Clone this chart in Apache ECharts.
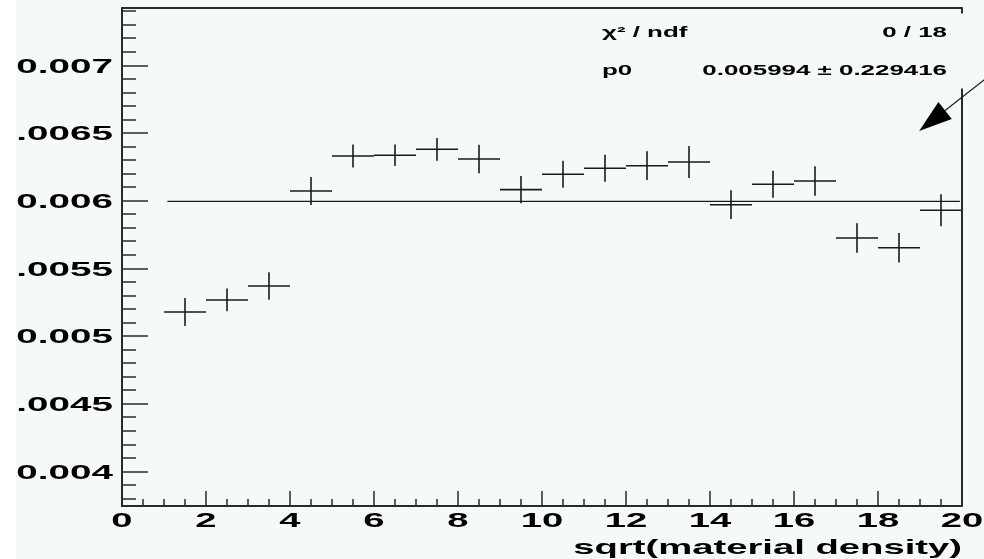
<!DOCTYPE html>
<html><head><meta charset="utf-8">
<script src="https://cdn.jsdelivr.net/npm/echarts@6/dist/echarts.min.js"></script>
<style>html,body{margin:0;padding:0;background:#F5FAF7;}#c{width:984px;height:559px;}</style>
</head><body><div id="c"></div>
<script>
// ---- data ----
var binCenters = [1.5, 2.5, 3.5, 4.5, 5.5, 6.5, 7.5, 8.5, 9.5, 10.5, 11.5, 12.5, 13.5, 14.5, 15.5, 16.5, 17.5, 18.5, 19.5];
var values = [0.005177, 0.005266, 0.005369, 0.006071, 0.006330, 0.006335, 0.006379, 0.006308, 0.006081, 0.006195, 0.006239, 0.006258, 0.006285, 0.005970, 0.006121, 0.006145, 0.005724, 0.005652, 0.005929];
var errors = [0.000103, 0.000084, 0.000101, 0.000103, 0.000085, 0.000080, 0.000084, 0.000105, 0.000100, 0.000100, 0.000100, 0.000106, 0.000118, 0.000106, 0.000100, 0.000109, 0.000109, 0.000109, 0.000118];
var binWidth = 1;
var fitP0 = 0.005994;
var fitRange = [1.08, 19.95];
var xMin = 0, xMax = 20;
var yMin = 0.003744, yMax = 0.007423;
var xTickValues = [0, 2, 4, 6, 8, 10, 12, 14, 16, 18, 20];
var xTickLabels = ['0', '2', '4', '6', '8', '10', '12', '14', '16', '18', '20'];
var yTickValues = [0.004, 0.0045, 0.005, 0.0055, 0.006, 0.0065, 0.007];
var yTickLabels = ['0.004', '0.0045', '0.005', '0.0055', '0.006', '0.0065', '0.007'];
var yMinorTickValues = [0.0038, 0.0039, 0.0041, 0.0042, 0.0043, 0.0044, 0.0046, 0.0047, 0.0048, 0.0049,
  0.0051, 0.0052, 0.0053, 0.0054, 0.0056, 0.0057, 0.0058, 0.0059, 0.0061, 0.0062, 0.0063, 0.0064,
  0.0066, 0.0067, 0.0068, 0.0069, 0.0071, 0.0072, 0.0073, 0.0074];
var xTitle = 'sqrt(material density)';
var statsLabels = ['\u03c7\u00b2 / ndf', 'p0'];
var statsValues = ['0 / 18', '0.005994 \u00b1 0.229416'];
var arrowTail = [20.905, 0.0069845];
var arrowTip = [18.98, 0.006515];

// ---- chart ----
var ink = '#1a1a1a';
var axisInk = '#2a2a2a';
var bg = '#F5FAF7';
var chart = echarts.init(document.getElementById('c'), null, {renderer: 'canvas'});
var points = binCenters.map(function (x, i) { return [x, values[i], errors[i]]; });
var fitData = [[fitRange[0], fitP0], [fitRange[1], fitP0]];

function renderCross(params, api) {
  var x = api.value(0), y = api.value(1), e = api.value(2);
  var l = api.coord([x - binWidth / 2, y]), r = api.coord([x + binWidth / 2, y]);
  var t = api.coord([x, y + e]), b = api.coord([x, y - e]);
  var st = {stroke: ink, lineWidth: 1.6};
  return {type: 'group', children: [
    {type: 'line', shape: {x1: l[0], y1: l[1], x2: r[0], y2: r[1]}, style: st},
    {type: 'line', shape: {x1: t[0], y1: t[1], x2: b[0], y2: b[1]}, style: st}
  ]};
}

var axLine = {show: true, onZero: false, lineStyle: {color: axisInk, width: 2}};
var option = {
  backgroundColor: bg,
  animation: false,
  grid: {left: 122, right: 22, top: 8, bottom: 53, show: false},
  xAxis: [
    {type: 'value', min: xMin, max: xMax, interval: 2, position: 'bottom',
      axisLine: axLine,
      axisTick: {show: true, inside: true, length: 15, lineStyle: {color: axisInk, width: 1.5}},
      minorTick: {show: true, splitNumber: 4, length: 7, lineStyle: {color: axisInk, width: 1.5}},
      axisLabel: {show: false}, splitLine: {show: false}, minorSplitLine: {show: false}},
    {type: 'value', min: xMin, max: xMax, position: 'top', axisLine: axLine,
      axisTick: {show: false}, axisLabel: {show: false}, splitLine: {show: false}}
  ],
  yAxis: [
    {type: 'value', min: yMin, max: yMax, position: 'left', axisLine: axLine,
      axisTick: {show: true, inside: true, length: 26, customValues: yTickValues, lineStyle: {color: axisInk, width: 1.5}},
      axisLabel: {show: false, customValues: yTickValues}, splitLine: {show: false}},
    {type: 'value', min: yMin, max: yMax, position: 'left', axisLine: {show: false},
      axisTick: {show: true, inside: true, length: 14, customValues: yMinorTickValues, lineStyle: {color: axisInk, width: 1.5}},
      axisLabel: {show: false, customValues: yMinorTickValues}, splitLine: {show: false}}
  ],
  series: [
    {type: 'line', data: fitData, symbol: 'none', xAxisIndex: 0, yAxisIndex: 0,
      lineStyle: {color: ink, width: 1.3}, silent: true},
    {type: 'custom', data: points, renderItem: renderCross, xAxisIndex: 0, yAxisIndex: 0, silent: true}
  ]
};
chart.setOption(option);

function px(p) { return chart.convertToPixel({xAxisIndex: 0, yAxisIndex: 0}, p); }
var FONT = '"Liberation Sans", Arial, Helvetica, sans-serif';
function txt(str, x, y, size, align, vAlign, sx, z) {
  return {type: 'text', x: x, y: y, scaleX: sx, z: z || 50,
    style: {text: str, x: 0, y: 0, fill: '#000', font: 'bold ' + size + 'px ' + FONT,
      textAlign: align, align: align, textVerticalAlign: vAlign, verticalAlign: vAlign}};
}
var g = [];
var origin = px([xMin, yMin]);
var topRight = px([xMax, yMax]);
yTickValues.forEach(function (v, i) {
  var p = px([xMin, v]);
  g.push(txt(yTickLabels[i], origin[0] - 9, p[1] + 1.5, 21, 'right', 'middle', 1.84));
});
xTickValues.forEach(function (v, i) {
  var p = px([v, yMin]);
  g.push(txt(xTickLabels[i], p[0], origin[1] + 15, 21, 'center', 'middle', 1.82));
});
g.push(txt(xTitle, topRight[0], origin[1] + 42, 21, 'right', 'middle', 1.82));
// right frame edge, interrupted by the stats box
var boxTop = 13.5, boxBottom = 88.5;
var rStyle = {stroke: axisInk, lineWidth: 2};
g.push({type: 'line', z: 40, shape: {x1: topRight[0], y1: topRight[1], x2: topRight[0], y2: boxTop}, style: rStyle});
g.push({type: 'line', z: 40, shape: {x1: topRight[0], y1: boxBottom, x2: topRight[0], y2: origin[1]}, style: rStyle});
// stats box text
g.push(txt(statsLabels[0], 602, 33.5, 14, 'left', 'middle', 1.85, 61));
g.push(txt(statsValues[0], 947, 33.5, 14, 'right', 'middle', 1.85, 61));
g.push(txt(statsLabels[1], 602, 71, 14, 'left', 'middle', 1.85, 61));
g.push(txt(statsValues[1], 947, 71, 14, 'right', 'middle', 1.85, 61));
// arrow
var tail = px(arrowTail), tip = px(arrowTip);
var dx = tail[0] - tip[0], dy = tail[1] - tip[1], dl = Math.sqrt(dx * dx + dy * dy);
var ux = dx / dl, uy = dy / dl, headL = 33, headW = 10.8;
var bx = tip[0] + ux * headL, by = tip[1] + uy * headL;
g.push({type: 'line', z: 70, shape: {x1: tail[0], y1: tail[1], x2: bx, y2: by}, style: {stroke: ink, lineWidth: 1.1}});
g.push({type: 'polygon', z: 70, shape: {points: [[tip[0], tip[1]], [bx - uy * headW, by + ux * headW], [bx + uy * headW, by - ux * headW]]}, style: {fill: '#000'}});
// white strip at left edge
g.push({type: 'rect', z: 80, shape: {x: 0, y: 0, width: 16, height: 559}, style: {fill: '#ffffff'}});
chart.setOption({graphic: g});
</script>
</body></html>
